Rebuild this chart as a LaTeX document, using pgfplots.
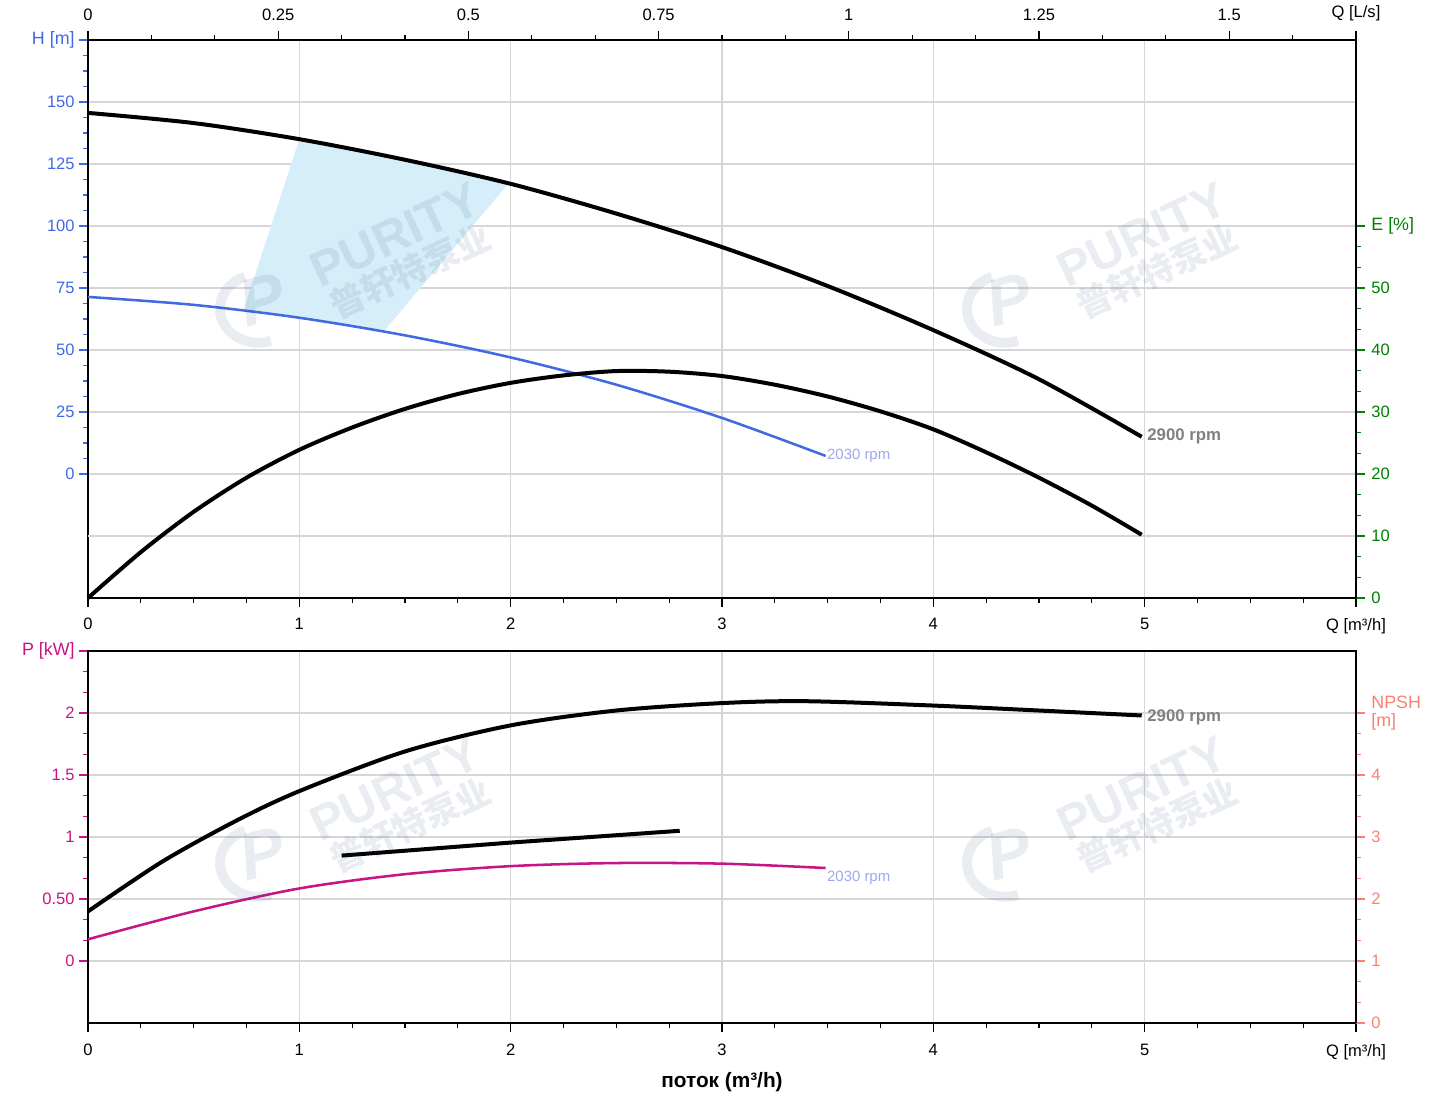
\documentclass[border=0pt]{standalone}
\usepackage{fontspec}
\setmainfont{Liberation Sans}
\newfontfamily\cjk{Noto Sans CJK SC}
\usepackage{pgfplots}
\pgfplotsset{compat=1.18}
\definecolor{hblue}{HTML}{4169E1}
\definecolor{egreen}{HTML}{008000}
\definecolor{pmag}{HTML}{C71585}
\definecolor{nsal}{HTML}{FA8072}
\definecolor{gridc}{HTML}{D6D6D6}
\definecolor{shade}{HTML}{D6EEFA}
\definecolor{lblb}{HTML}{9DA8F0}
\definecolor{lblg}{HTML}{808080}
\definecolor{wm}{HTML}{2B4A80}
\newcommand\tf{\fontsize{12.4}{14}\selectfont}
\newcommand\af{\fontsize{13.4}{15}\selectfont}
\pgfplotsset{
  common/.style={
    scale only axis, width=951pt, xmin=0, xmax=6,
    anchor=south west, clip=false,
    tick align=outside,
    major tick length=6.5pt, minor tick length=3.5pt,
    tick label style={font=\tf},
    axis line style={-, black, line width=1.2pt},
    every tick/.append style={line width=0.9pt},
  },
  panelA/.style={common, at={(66pt,373.5pt)}, height=418.5pt},
  panelB/.style={common, at={(66pt,54.75pt)}, height=279pt},
}
\begin{document}
\begin{tikzpicture}
\useasboundingbox (0,0) rectangle (1080.75pt,822pt);

% ---------- top panel: H axis ----------
\begin{axis}[panelA, ymin=-50, ymax=175,
  xtick={0,1,2,3,4,5,6}, xticklabels={0,1,2,3,4,5,{Q [m³/h]}}, minor x tick num=3,
  ytick={0,25,50,75,100,125,150,175}, yticklabels={0,25,50,75,100,125,150,{\af H [m]}}, minor y tick num=3,
  xtick pos=bottom, ytick pos=left,
  xtick style={black}, ytick style={hblue},
  yticklabel style={text=hblue},
  xticklabel style={yshift=-5pt},
  grid=major, grid style={gridc, line width=1.1pt},
  extra y ticks={-25}, extra y tick labels={}, extra y tick style={grid=major, tick style={draw=none}},
]
\addplot[fill=shade, draw=none] coordinates {(1,135) (1.25,131.0) (1.5,126.7) (1.75,122.0) (1.99,117.2) (1.40,57.5) (1.2,60.4) (1,63.0) (0.85,64.7) (0.735,65.9)} -- cycle;
\addplot[hblue, line width=1.9pt, smooth] coordinates {(0,71.4) (0.5,68.2) (1,63.0) (1.5,55.9) (2,47.0) (2.5,36.0) (3,22.6) (3.49,7.3)};
\addplot[black, line width=3pt, smooth] coordinates {(0,145.6) (0.5,141.5) (1,135.0) (1.5,126.7) (2,117.0) (2.5,105.0) (3,91.5) (3.5,75.8) (4,58.0) (4.5,38.2) (4.986,15.0)};
\node[anchor=west, text=lblg, font=\bfseries\fontsize{12.6}{14}\selectfont, inner sep=2pt, xshift=2pt] at (axis cs:4.986,15) {2900 rpm};
\node[anchor=west, text=lblb, font=\fontsize{11.2}{13}\selectfont, inner sep=1pt] at (axis cs:3.49,7.3) {2030 rpm};
\end{axis}

% ---------- top panel: E axis + L/s axis ----------
\begin{axis}[panelA, ymin=0, ymax=90,
  axis x line*=top, axis y line*=right,
  xtick={0,0.9,1.8,2.7,3.6,4.5,5.4,6}, xticklabels={0,0.25,0.5,0.75,1,1.25,1.5,{Q [L/s]}},
  minor xtick={0.3,0.6,1.2,1.5,2.1,2.4,3.0,3.3,3.9,4.2,4.8,5.1,5.7},
  ytick={0,10,20,30,40,50,60}, yticklabels={0,10,20,30,40,50,{\af E [\%]}}, minor y tick num=2,
  xtick style={black}, ytick style={egreen}, yticklabel style={text=egreen, xshift=1.5pt},
  xticklabel style={yshift=4.5pt},
]
\addplot[black, line width=3pt, smooth] coordinates {(0,0) (0.25,7.4) (0.5,13.9) (0.75,19.4) (1,23.9) (1.25,27.5) (1.5,30.5) (1.75,32.9) (2,34.7) (2.25,35.9) (2.5,36.6) (2.75,36.5) (3,35.8) (3.25,34.4) (3.5,32.5) (3.75,30.1) (4,27.2) (4.25,23.5) (4.5,19.4) (4.75,14.9) (4.986,10.2)};
\end{axis}

% ---------- bottom panel: P axis ----------
\begin{axis}[panelB, ymin=-0.5, ymax=2.5,
  xtick={0,1,2,3,4,5,6}, xticklabels={0,1,2,3,4,5,{Q [m³/h]}}, minor x tick num=3,
  ytick={0,0.5,1,1.5,2,2.5}, yticklabels={0,0.50,1,1.5,2,{\af P [kW]}}, minor y tick num=2,
  xtick pos=bottom, ytick pos=left,
  xtick style={black}, ytick style={pmag},
  yticklabel style={text=pmag},
  xticklabel style={yshift=-6pt},
  grid=major, grid style={gridc, line width=1.1pt},
]
\addplot[pmag, line width=1.9pt, smooth] coordinates {(0,0.175) (0.5,0.40) (1,0.585) (1.5,0.70) (2,0.765) (2.5,0.79) (3,0.785) (3.49,0.75)};
\addplot[black, line width=3pt, smooth] coordinates {(0,0.40) (0.35,0.80) (0.7,1.13) (1,1.37) (1.5,1.69) (2,1.90) (2.5,2.02) (3,2.08) (3.4,2.095) (4,2.06) (4.5,2.02) (4.986,1.98)};
\node[anchor=west, text=lblg, font=\bfseries\fontsize{12.6}{14}\selectfont, inner sep=2pt, xshift=2pt] at (axis cs:4.986,1.965) {2900 rpm};
\node[anchor=west, text=lblb, font=\fontsize{11.2}{13}\selectfont, inner sep=1pt, yshift=-7.5pt] at (axis cs:3.49,0.75) {2030 rpm};
\end{axis}

% ---------- bottom panel: NPSH axis ----------
\begin{axis}[panelB, ymin=0, ymax=6, hide x axis, axis y line*=right,
  ytick={0,1,2,3,4,5}, yticklabels={0,1,2,3,4,{\af NPSH\\{\af [m]}}}, minor y tick num=2,
  ytick style={nsal}, yticklabel style={text=nsal, align=left, xshift=1.5pt},
]
\addplot[black, line width=3pt] coordinates {(1.2,2.70) (2.0,2.91) (2.8,3.10)};
\end{axis}

% ---------- x label and watermarks (image pixel coordinates) ----------
\begin{scope}[yshift=822pt, x=0.75pt, y=-0.75pt]
\node[font=\bfseries\fontsize{15.6}{17}\selectfont] at (722,1082) {поток (m³/h)};
\foreach \dx/\dy in {0/0, 747/0, 0/554, 747/554}{
  \begin{scope}[shift={(\dx,\dy)}]
  \node[rotate=25, text=wm, opacity=0.1, font=\bfseries\fontsize{37}{37}\selectfont] at (395,235) {PURITY};
  \node[rotate=25, text=wm, opacity=0.1, font=\cjk\bfseries\fontsize{26}{26}\selectfont] at (410,271) {普轩特泵业};
  \draw[wm, opacity=0.1, line width=7.5pt] (258,305) ++(70:38) arc[start angle=70, end angle=250, x radius=38, y radius=34];
  \node[rotate=15, text=wm, opacity=0.1, font=\bfseries\itshape\fontsize{50}{50}\selectfont] at (262,300) {P};
  \end{scope}
}
\end{scope}
\end{tikzpicture}
\end{document}
